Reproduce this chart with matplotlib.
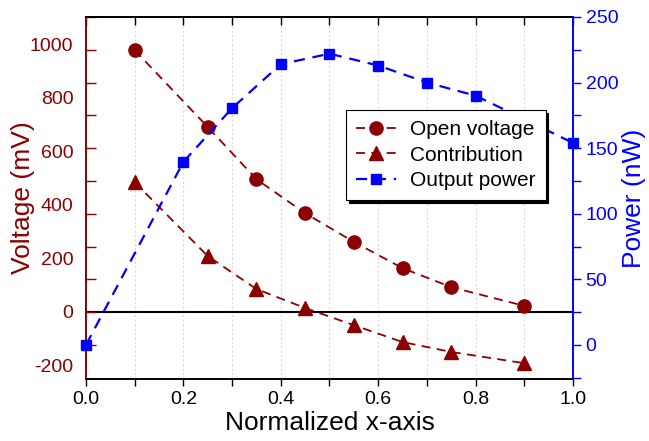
import numpy as np
import matplotlib
matplotlib.use("Agg")
import matplotlib.pyplot as plt
from matplotlib.ticker import MultipleLocator, FixedLocator

plt.rcParams['font.family'] = ['Liberation Sans', 'DejaVu Sans']
plt.rcParams['axes.unicode_minus'] = False

# データ
x_volt = [0.1, 0.25, 0.35, 0.45, 0.55, 0.65, 0.75, 0.9]
open_voltage = [977, 690, 495, 368, 261, 163, 92, 22]
contribution = [484, 208, 85, 14, -50, -113, -150, -192]
x_power = [0.0, 0.2, 0.3, 0.4, 0.5, 0.6, 0.7, 0.8, 0.9, 1.0]
output_power = [0, 139.5, 180.5, 214, 222, 213, 200, 190, 172, 154]

volt_ticks = [-200, 0, 200, 400, 600, 800, 1000]
power_ticks = [0, 50, 100, 150, 200, 250]
x_ticks = [0.0, 0.2, 0.4, 0.6, 0.8, 1.0]

DARK_RED = "#8B0000"
BLUE = "#0000FF"

fig = plt.figure(figsize=(6.49, 4.41), dpi=100)
ax = fig.add_axes([0.1325, 0.1406, 0.7504, 0.8209])
ax2 = ax.twinx()

ylim_l = (-251, 1101)
ylim_r = (-26, 250)
ax.set_xlim(0, 1)
ax.set_ylim(*ylim_l)
ax2.set_ylim(*ylim_r)

# グリッドとゼロ線
for xv in np.arange(0.1, 1.0, 0.1):
    ax.axvline(xv, color="#d8d8d8", lw=0.8, ls=(0, (2, 2)), zorder=0)
ax.axhline(0, color="black", lw=1.5, zorder=1)

ax.plot(x_volt, open_voltage, ls=(0, (5, 3.5)), lw=1.3, color=DARK_RED,
        marker="o", ms=9.5, label="Open voltage", zorder=3)
ax.plot(x_volt, contribution, ls=(0, (5, 3.5)), lw=1.3, color=DARK_RED,
        marker="^", ms=10, label="Contribution", zorder=3)
ax2.plot(x_power, output_power, ls=(0, (5, 3.5)), lw=1.6, color=BLUE,
         marker="s", ms=7, label="Output power", zorder=3, clip_on=False)

# x軸（下は外向き、上は内向き）
ax.set_xticks(x_ticks)
ax.set_xticklabels([f"{v:.1f}" for v in x_ticks])
ax.xaxis.set_minor_locator(MultipleLocator(0.1))
ax.tick_params(axis="x", which="both", direction="out", length=5, width=1,
               labelsize=14, pad=4)
ax.set_xlabel("Normalized x-axis", fontsize=19, labelpad=2)
top = ax.secondary_xaxis("top")
top.xaxis.set_major_locator(MultipleLocator(0.1))
top.tick_params(axis="x", direction="in", length=6, width=1, labeltop=False)
top.spines["top"].set_linewidth(1.2)

# 左軸（目盛は右軸の位置に描かれている）
ax.set_yticks(volt_ticks)
ax.tick_params(axis="y", which="major", length=0, labelsize=14,
               labelcolor=DARK_RED, pad=9)
span_l = ylim_l[1] - ylim_l[0]
span_r = ylim_r[1] - ylim_r[0]
left_minor = [ylim_l[0] + (p - ylim_r[0]) / span_r * span_l for p in range(0, 251, 25)]
ax.yaxis.set_minor_locator(FixedLocator(left_minor))
ax.tick_params(axis="y", which="minor", direction="in", length=7, width=1, color=DARK_RED)
ax.set_ylabel("Voltage (mV)", fontsize=19, color=DARK_RED)
ax.yaxis.label.set_va("center")
ax.yaxis.set_label_coords(-0.129, 0.5)

# 右軸
ax2.set_yticks(power_ticks)
ax2.yaxis.set_minor_locator(MultipleLocator(25))
ax2.tick_params(axis="y", which="both", direction="out", length=6, width=1,
                color=BLUE, labelcolor=BLUE, labelsize=14, pad=3)
ax2.set_ylabel("Power (nW)", fontsize=19, color=BLUE)
ax2.yaxis.label.set_va("center")
ax2.yaxis.set_label_coords(1.125, 0.5)

# スパイン
for a in (ax, ax2):
    for s in a.spines.values():
        s.set_linewidth(1.2)
    a.spines["left"].set_color(DARK_RED)
    a.spines["right"].set_color(BLUE)

h1, l1 = ax.get_legend_handles_labels()
h2, l2 = ax2.get_legend_handles_labels()
leg = ax2.legend(h1 + h2, l1 + l2, loc="upper left", bbox_to_anchor=(0.534, 0.743),
                 borderaxespad=0, fontsize=15, fancybox=False, edgecolor="black",
                 framealpha=1, shadow={"color": "black", "alpha": 1},
                 handlelength=1.9, borderpad=0.5, labelspacing=0.3,
                 handletextpad=0.65)
leg.get_frame().set_linewidth(0.8)
leg.set_zorder(10)

fig.savefig("out.png", dpi=100)
